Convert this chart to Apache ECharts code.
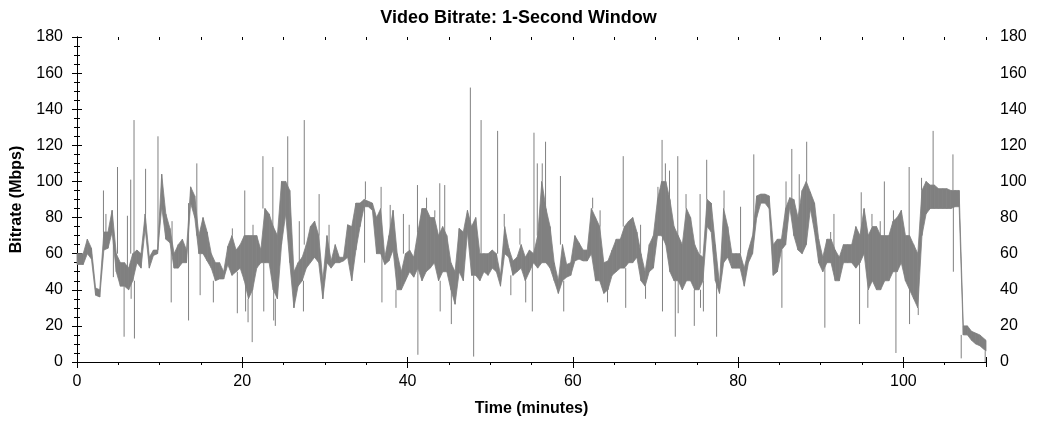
<!DOCTYPE html>
<html>
<head>
<meta charset="utf-8">
<script src="https://cdn.jsdelivr.net/npm/echarts@6/dist/echarts.min.js"></script>
<style>html,body{margin:0;padding:0;background:#fff}#c{width:1037px;height:425px}</style>
</head>
<body>
<div id="c"></div>
<script>
// Dense bitrate ribbon: per 0.5-minute bin, lower and upper edge (Mbps)
const binMinutes = 0.5;
const coreLow = [
  54,54,60,57,37,36,62,63,72,50,
  42,42,40,45,55,52,74,52,59,60,
  86,68,66,52,52,55,55,88,80,60,
  60,56,52,45,46,46,54,48,50,52,
  45,35,40,52,55,55,55,40,35,65,
  82,55,30,42,45,52,55,58,55,35,
  55,52,55,55,56,58,45,62,75,86,
  86,84,60,60,54,56,62,40,40,45,
  50,47,52,45,50,52,55,45,50,50,
  40,32,50,45,72,48,48,45,50,48,
  52,50,42,60,58,48,50,52,45,50,
  55,52,55,55,52,45,38,45,47,48,
  56,57,56,56,60,45,45,38,40,48,
  50,52,52,55,55,58,45,42,50,52,
  70,70,65,50,45,45,40,45,45,40,
  40,45,75,72,45,38,55,58,52,52,
  52,42,55,60,80,88,88,85,48,50,
  62,65,86,70,62,60,65,85,72,55,
  50,55,55,45,45,55,55,55,52,55,
  60,40,45,40,40,45,45,50,50,55,
  45,40,35,30,70,82,85,85,85,85,
  85,85,86,86,15,15,12,10,9,6
];
const coreHigh = [
  60,60,68,63,41,40,72,72,84,60,
  55,55,52,60,62,60,82,58,62,62,
  104,82,74,60,65,68,62,97,92,70,
  80,72,60,55,55,50,64,70,62,65,
  70,70,70,70,62,85,82,75,70,100,
  100,95,50,55,58,65,75,78,70,45,
  70,56,65,58,58,76,75,88,88,90,
  89,88,80,85,58,70,84,60,50,60,
  62,58,72,85,85,80,80,70,75,70,
  55,50,74,72,84,75,80,60,60,60,
  62,60,48,75,63,56,58,65,58,62,
  60,70,100,85,75,55,45,65,54,55,
  70,66,62,62,85,80,75,55,56,62,
  68,68,75,78,80,72,60,50,65,70,
  90,100,100,90,75,70,65,85,80,65,
  60,58,90,88,65,43,85,75,60,60,
  60,52,62,70,92,93,93,92,65,68,
  68,85,91,90,80,95,100,94,88,68,
  58,68,68,62,58,65,65,65,75,70,
  85,70,75,75,70,70,70,78,80,84,
  70,70,65,60,95,100,98,98,96,96,
  96,95,95,95,20,20,17,16,15,12
];
// Short excursions out of the ribbon: time (minutes) and value (Mbps)
const spikeTime = [
  3.2,3.5,4.4,4.9,5.7,6.1,6.5,6.55,6.9,6.95,8.3,9.8,11.4,11.5,13.5,14.5,14.9,16.5,18.8,19.4,
  20.3,20.4,20.7,21.2,21.3,22.5,22.6,23.7,23.8,24.0,25.5,26.9,27.4,27.5,29.3,30.5,34.8,34.9,36.8,36.9,
  37.9,38.6,39.5,40.2,41.2,41.25,42.3,43.3,43.9,43.95,44.5,45.3,47.6,48.0,48.9,50.9,51.7,52.5,53.6,54.3,
  55.1,55.3,55.7,56.3,56.7,58.5,58.9,62.4,63.3,64.2,66.1,66.4,68.2,68.8,70.3,70.8,70.85,71.2,71.7,72.4,
  72.7,72.75,73.7,74.7,75.4,75.45,75.8,76.2,77.4,78.3,80.3,81.9,85.3,85.8,86.5,87.4,88.3,90.5,91.2,91.6,
  94.7,94.9,95.7,96.2,97.2,97.7,98.8,99.1,100.7,100.75,101.8,102.2,103.6,106.0,106.05,107.0,109.9
];
const spikeValue = [
  95,82,47,108,14,81,101,35,134,13,107,125,33,78,23,110,37,33,74,27,
  95,28,22,11,76,114,28,108,23,20,125,78,28,134,93,76,55,100,97,33,
  87,30,82,76,98,4,91,84,99,28,98,21,152,3,134,128,82,37,74,33,
  28,127,110,110,122,103,28,91,84,33,114,30,76,35,97,123,28,110,106,14,
  114,27,93,20,93,30,28,112,14,95,86,115,30,100,118,104,122,19,72,82,
  21,94,30,82,78,100,84,5,108,21,26,102,128,115,50,2,0
];
const xTicks = {min: 0, max: 110, major: 20, minor: 5};
const yTicks = {min: 0, max: 180, major: 20};

// Build the series data from the arrays above
const nBins = coreLow.length;
const bandData = [];
for (let i = 0; i < nBins; i++) {
  let t = i * binMinutes + binMinutes / 2;
  if (i === 0) t = xTicks.min;
  if (i === nBins - 1) t = xTicks.max;
  bandData.push([t, coreLow[i], coreHigh[i]]);
}
const spikePts = [];
for (let k = 0; k < spikeTime.length; k++) {
  const b = Math.min(nBins - 1, Math.floor(spikeTime[k] / binMinutes));
  const base = spikeValue[k] > coreHigh[b] ? coreHigh[b] : coreLow[b];
  spikePts.push([spikeTime[k], base], [spikeTime[k], spikeValue[k]], [spikeTime[k], '-']);
}

const FONT = 'Liberation Sans, Arial, sans-serif';
const black = '#000';
const GRAY = '#808080';
function xAx(opts) {
  return Object.assign({
    type: 'value', min: xTicks.min, max: xTicks.max, interval: xTicks.major,
    splitLine: {show: false},
    axisLine: {show: false, lineStyle: {color: black, width: 1}},
    axisLabel: {show: false},
    axisTick: {show: true, lineStyle: {color: black}}
  }, opts);
}
function yAx(opts) {
  return Object.assign({
    type: 'value', min: yTicks.min, max: yTicks.max, interval: yTicks.major,
    splitLine: {show: false},
    axisLine: {show: false, lineStyle: {color: black, width: 1}},
    axisLabel: {show: false},
    axisTick: {show: true, lineStyle: {color: black}},
    minorTick: {show: true, splitNumber: 4, length: 3, lineStyle: {color: black}}
  }, opts);
}

function renderBand(params, api) {
  const i = params.dataIndex;
  if (i >= nBins - 1) return null;
  const a = bandData[i], b = bandData[i + 1];
  const pts = [
    api.coord([a[0], a[1]]), api.coord([b[0], b[1]]),
    api.coord([b[0], b[2]]), api.coord([a[0], a[2]])
  ];
  return {type: 'polygon', shape: {points: pts},
          style: {fill: GRAY, stroke: GRAY, lineWidth: 0.8}};
}

const chart = echarts.init(document.getElementById('c'), null, {renderer: 'canvas'});
chart.setOption({
  animation: false,
  backgroundColor: '#fff',
  title: {
    text: 'Video Bitrate: 1-Second Window', left: 'center', top: 4,
    textStyle: {fontFamily: FONT, fontSize: 18, fontWeight: 'bold', color: black}
  },
  grid: {left: 77, right: 51, top: 37, bottom: 63, containLabel: false},
  xAxis: [
    xAx({position: 'bottom', axisLine: {show: true, lineStyle: {color: black}},
      axisTick: {show: true, inside: false, length: 6, lineStyle: {color: black}},
      axisLabel: {show: true, margin: 12, showMaxLabel: false, fontFamily: FONT, fontSize: 16, color: black},
      name: 'Time (minutes)', nameLocation: 'middle', nameGap: 39,
      nameTextStyle: {fontFamily: FONT, fontSize: 16, fontWeight: 'bold', color: black}}),
    xAx({position: 'bottom', axisTick: {show: true, inside: true, length: 5, lineStyle: {color: black}}}),
    xAx({position: 'bottom', interval: xTicks.minor, axisTick: {show: true, inside: false, length: 3, lineStyle: {color: black}}}),
    xAx({position: 'top', axisLine: {show: true, lineStyle: {color: black}},
      axisTick: {show: true, inside: true, length: 5, lineStyle: {color: black}}}),
    xAx({position: 'top', interval: xTicks.minor, axisTick: {show: true, inside: true, length: 3, lineStyle: {color: black}}})
  ],
  yAxis: [
    yAx({position: 'left', axisLine: {show: true, lineStyle: {color: black}},
      axisTick: {show: true, inside: false, length: 5, lineStyle: {color: black}},
      axisLabel: {show: true, margin: 14, fontFamily: FONT, fontSize: 16, color: black},
      name: 'Bitrate (Mbps)', nameLocation: 'middle', nameGap: 52,
      nameTextStyle: {fontFamily: FONT, fontSize: 16, fontWeight: 'bold', color: black}}),
    yAx({position: 'left', axisTick: {show: true, inside: true, length: 5, lineStyle: {color: black}}}),
    yAx({position: 'right', axisLine: {show: true, lineStyle: {color: black}},
      axisTick: {show: true, inside: false, length: 5, lineStyle: {color: black}},
      axisLabel: {show: true, margin: 14, fontFamily: FONT, fontSize: 16, color: black}}),
    yAx({position: 'right', axisTick: {show: true, inside: true, length: 5, lineStyle: {color: black}}})
  ],
  series: [
    {type: 'custom', name: 'band', data: bandData, renderItem: renderBand,
     encode: {x: 0, y: [1, 2]}, z: 1},
    {type: 'line', name: 'spikes', data: spikePts, showSymbol: false, symbol: 'none', connectNulls: false,
     lineStyle: {color: GRAY, width: 1}, z: 2}
  ]
});
</script>
</body>
</html>
